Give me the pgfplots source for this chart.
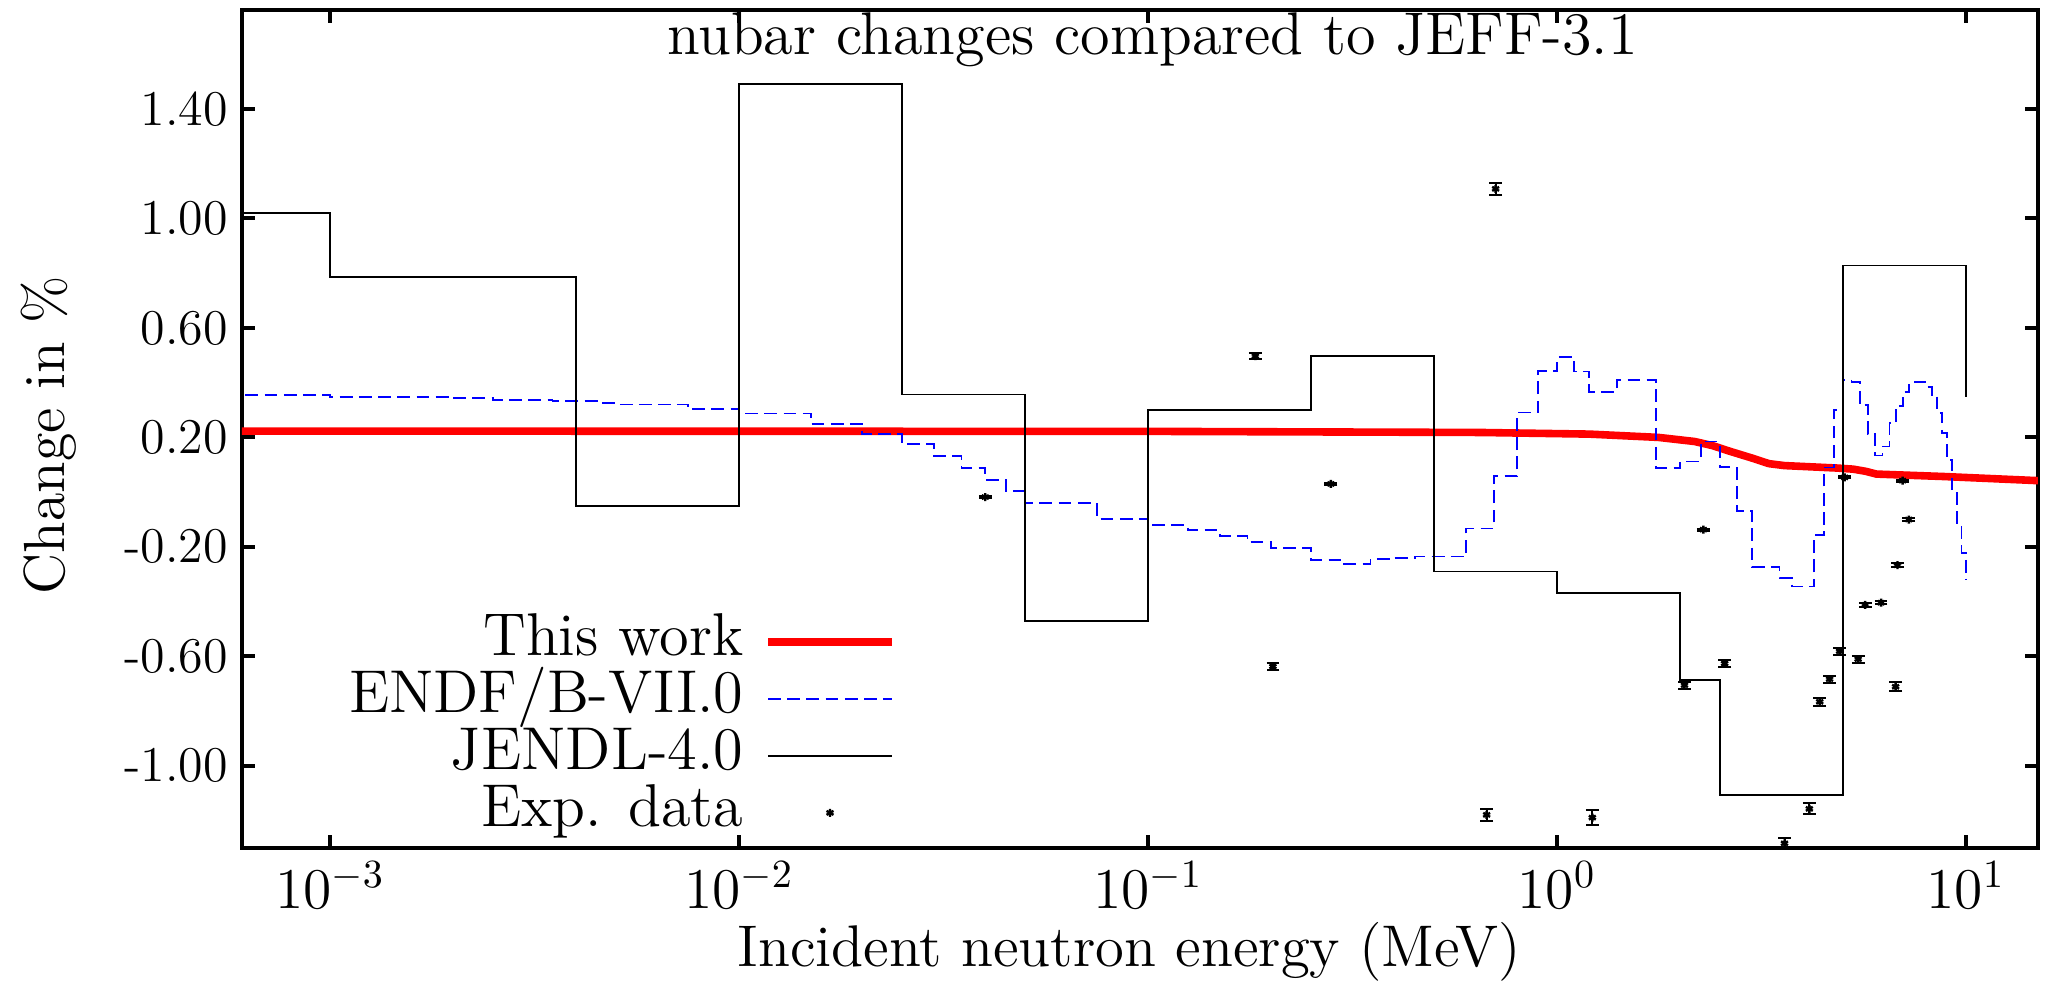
\documentclass[border=0pt]{standalone}
\usepackage{graphicx}
\usepackage{pgfplots}
\pgfplotsset{compat=1.18}
\usetikzlibrary{plotmarks}
\newcommand{\mainfont}{\fontsize{14.5}{17}\selectfont}
\newcommand{\sbx}[2]{\scalebox{#1}{#2}}
\pgfplotsset{
  linelegend/.style={legend image code/.code={\draw[##1] (0pt,0pt) -- (31pt,0pt);}},
  marklegend/.style={legend image code/.code={\draw[mark repeat=2, mark phase=2, ##1] plot coordinates {(0pt,0pt) (15.5pt,0pt) (31pt,0pt)};}},
}
\begin{document}
\begin{tikzpicture}
\begin{axis}[
  name=ax,
  scale only axis,
  width=449pt, height=209.4pt,
  xmode=log, xmin=6.09e-4, xmax=15.0,
  ymin=-1.30, ymax=1.76,
  xminorticks=false, yminorticks=false,
  tick align=inside, tick pos=both,
  major tick length=3.25pt,
  axis line style={line width=1pt},
  every tick/.style={line width=1pt, black},
  xtick={1e-3,1e-2,1e-1,1,10},
  ytick={-1.0,-0.6,-0.2,0.2,0.6,1.0,1.4},
  yticklabels={-1.00,-0.60,-0.20,0.20,0.60,1.00,1.40},
  yticklabel style={font=\fontsize{12.5}{14}\selectfont},
  xticklabel style={font=\fontsize{14}{16}\selectfont},
  xlabel={\sbx{1.0136}{Incident neutron energy (MeV)}},
  xlabel style={at={(axis description cs:0.494,-0.1409)}, anchor=base, font=\mainfont},
  ylabel={Change in \%},
  ylabel style={at={(axis description cs:-0.0986,0.493)}, anchor=base, font=\mainfont},
  legend plot pos=right,
  legend cell align=right,
  legend style={draw=none, fill=none, at={(axis description cs:0.3645,0.144)}, anchor=east,
    font=\mainfont, inner sep=0pt, row sep=0.25pt, column sep=4.2pt,
    nodes={inner sep=1pt, text height=9.5pt, text depth=2.5pt}},
  linelegend,
]
\node[anchor=base, font=\mainfont, inner sep=0pt] at (axis description cs:0.507,0.947) {\sbx{1.039}{nubar changes compared to JEFF-3.1}};
% This work
\addplot[color=red, line width=1.9pt, line join=round] coordinates {
(6e-4,0.223) (0.1,0.222) (0.65,0.218) (1.2,0.212) (1.77,0.200) (2.17,0.185)
(2.4,0.170) (2.65,0.149) (2.99,0.125) (3.3,0.104) (3.6,0.097) (4.84,0.088)
(5.3,0.084) (5.69,0.076) (6.04,0.066) (8.85,0.057) (15,0.042)
};
\addlegendentry{\sbx{1.042}{This work}}
% ENDF/B-VII.0
\addplot[const plot, color=blue, line width=0.45pt, dash pattern=on 3.2pt off 1.6pt] coordinates {
(5e-4,0.355) (1e-3,0.349) (2e-3,0.343) (2.5e-3,0.337) (3.5e-3,0.332) (4.5e-3,0.326)
(5e-3,0.320) (7.5e-3,0.304) (1e-2,0.287) (1.5e-2,0.249) (2e-2,0.212) (2.5e-2,0.177)
(3e-2,0.132) (3.5e-2,0.088) (4e-2,0.045) (4.5e-2,0.003) (5e-2,-0.041) (7.5e-2,-0.098)
(0.1,-0.120) (0.125,-0.139) (0.15,-0.159) (0.175,-0.181) (0.2,-0.203) (0.25,-0.247)
(0.3,-0.263) (0.35,-0.245) (0.4,-0.240) (0.45,-0.235) (0.6,-0.133) (0.7,0.060)
(0.8,0.291) (0.9,0.444) (1.0,0.493) (1.1,0.441) (1.2,0.367) (1.4,0.411)
(1.75,0.088) (2.0,0.112) (2.25,0.185) (2.5,0.092) (2.75,-0.069) (3.0,-0.274)
(3.5,-0.313) (3.75,-0.345) (4.25,-0.157) (4.5,0.090) (4.75,0.300) (5.0,0.411)
(5.25,0.401) (5.5,0.318) (5.75,0.212) (6.0,0.134) (6.25,0.167) (6.5,0.253)
(6.75,0.316) (7.0,0.365) (7.25,0.393) (7.5,0.403) (8.0,0.384) (8.25,0.350)
(8.5,0.289) (8.75,0.216) (9.0,0.117) (9.25,0.006) (9.5,-0.113) (9.75,-0.223)
(10,-0.320)
};
\addlegendentry{\sbx{1.042}{ENDF/B-VII.0}}
% JENDL-4.0
\addplot[const plot, color=black, line width=0.45pt] coordinates {
(5e-4,1.020) (1e-3,0.787) (4e-3,-0.052) (1e-2,1.490) (0.025,0.357) (0.05,-0.470)
(0.1,0.300) (0.25,0.497) (0.5,-0.290) (1.0,-0.369) (2.0,-0.686) (2.5,-1.107)
(5.0,0.828) (10,0.346)
};
\addlegendentry{\sbx{1.042}{JENDL-4.0}}
% Exp. data
\addplot[only marks, mark=asterisk, mark size=1pt, black, mark options={line width=0.6pt},
  marklegend,
  error bars/.cd, y dir=both, y explicit,
  error bar style={line width=0.5pt, black},
  error mark options={rotate=90, mark size=1.6pt, line width=0.5pt, black}]
table[x=x, y=y, y error=e] {
x y e
0.040 -0.018 0.004
0.183 0.497 0.012
0.202 -0.637 0.012
0.280 0.030 0.004
0.673 -1.179 0.022
0.708 1.108 0.022
1.22 -1.189 0.026
2.05 -0.705 0.013
2.28 -0.137 0.004
2.57 -0.626 0.011
3.6 -1.283 0.020
4.14 -1.157 0.020
4.39 -0.766 0.015
4.64 -0.683 0.013
4.91 -0.581 0.013
5.05 0.054 0.004
5.45 -0.610 0.013
5.67 -0.412 0.006
6.2 -0.404 0.006
6.8 -0.267 0.007
6.73 -0.711 0.017
7.0 0.042 0.004
7.25 -0.100 0.005
};
\addlegendentry{\sbx{1.042}{Exp. data}}
\end{axis}
\pgfresetboundingbox
\path ([xshift=-60.5pt,yshift=-33.5pt]ax.south west) rectangle ([xshift=2.5pt,yshift=2.6pt]ax.north east);
\end{tikzpicture}
\end{document}
